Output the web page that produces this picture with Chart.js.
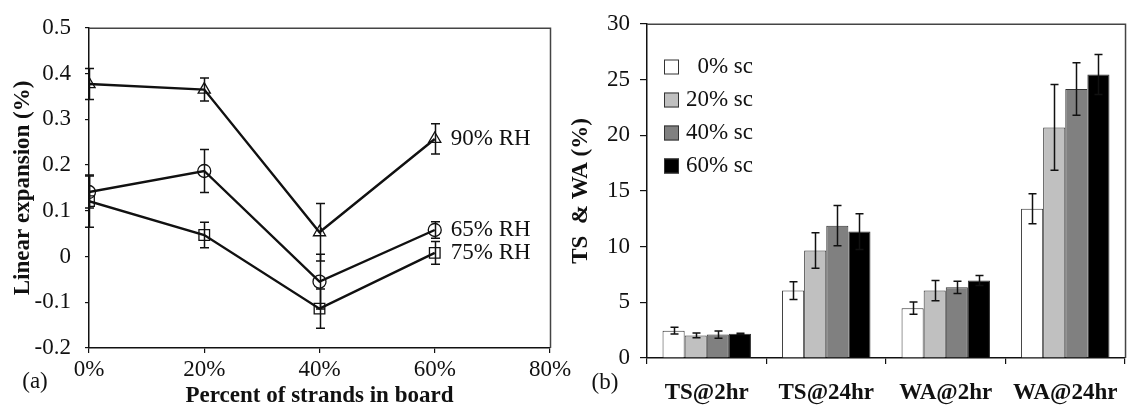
<!DOCTYPE html>
<html><head><meta charset="utf-8">
<script src="https://cdn.jsdelivr.net/npm/chart.js@4/dist/chart.umd.min.js"></script>
<style>
html,body{margin:0;padding:0;background:#fff;}
#wrap{position:relative;width:1133px;height:407px;overflow:hidden;}
#a{position:absolute;left:0;top:0;}
#b{position:absolute;left:565px;top:0;}
</style></head><body>
<div id="wrap">
<canvas id="a" width="580" height="407"></canvas>
<canvas id="b" width="568" height="407"></canvas>
</div>
<script>
// ---- Panel (a) data ----
const strandPct = [0, 20, 40, 60];
const xTicksA = [0, 20, 40, 60, 80];
const rh90 = [0.377, 0.365, 0.053, 0.257];
const rh90Err = [0.034, 0.025, 0.063, 0.033];
const rh65 = [0.141, 0.187, -0.055, 0.058];
const rh65Err = [0.035, 0.047, 0.060, 0.018];
const rh75 = [0.121, 0.047, -0.114, 0.008];
const rh75Err = [0.057, 0.028, 0.043, 0.025];
const seriesLabelsA = ['90% RH', '65% RH', '75% RH'];

// ---- Panel (b) data ----
const testCats = ['TS@2hr', 'TS@24hr', 'WA@2hr', 'WA@24hr'];
const sc0 = [2.45, 6.05, 4.47, 13.4];
const sc0Err = [0.3, 0.8, 0.55, 1.35];
const sc20 = [2.03, 9.65, 6.05, 20.7];
const sc20Err = [0.22, 1.6, 0.9, 3.85];
const sc40 = [2.1, 11.88, 6.35, 24.15];
const sc40Err = [0.32, 1.8, 0.55, 2.35];
const sc60 = [2.17, 11.35, 6.95, 25.45];
const sc60Err = [0.05, 1.6, 0.45, 1.8];
const seriesLabelsB = ['0% sc', '20% sc', '40% sc', '60% sc'];

const FONT = "'Liberation Serif','Times New Roman',serif";
const INK = '#111111';
const FS = 23;
Chart.defaults.font.family = FONT;
Chart.defaults.color = INK;

function drawErrorBars(chart, half) {
  const ctx = chart.ctx, ys = chart.scales.y;
  ctx.save();
  ctx.strokeStyle = INK; ctx.lineWidth = 1.5;
  chart.data.datasets.forEach((ds, di) => {
    const meta = chart.getDatasetMeta(di);
    meta.data.forEach((el, i) => {
      const raw = ds.data[i];
      const v = (typeof raw === 'object') ? raw.y : raw;
      const e = ds.errors[i];
      const y1 = ys.getPixelForValue(v + e), y2 = ys.getPixelForValue(v - e);
      const x = Math.round(el.x) + 0.5;
      ctx.beginPath();
      ctx.moveTo(x, y1); ctx.lineTo(x, y2);
      ctx.moveTo(x - half, y1); ctx.lineTo(x + half, y1);
      ctx.moveTo(x - half, y2); ctx.lineTo(x + half, y2);
      ctx.stroke();
    });
  });
  ctx.restore();
}

const errPlugin = {
  id: 'errBars',
  afterDatasetsDraw(chart, args, opts) { drawErrorBars(chart, opts.half || 4); }
};

const framePlugin = {
  id: 'frame',
  afterDraw(chart) {
    const { ctx, chartArea: a } = chart;
    ctx.save();
    ctx.strokeStyle = '#444'; ctx.lineWidth = 1.5;
    ctx.beginPath();
    ctx.moveTo(a.left, a.top + 0.5);
    ctx.lineTo(a.right + 0.5, a.top + 0.5);
    ctx.lineTo(a.right + 0.5, a.bottom);
    ctx.stroke();
    ctx.restore();
  }
};

const tagPlugin = {
  id: 'tag',
  afterDraw(chart, args, opts) {
    const ctx = chart.ctx;
    ctx.save();
    ctx.font = FS + 'px ' + FONT; ctx.fillStyle = INK;
    ctx.textAlign = 'center'; ctx.textBaseline = 'middle';
    ctx.fillText(opts.text, opts.x, opts.y);
    ctx.restore();
  }
};

const endLabelPlugin = {
  id: 'endLabels',
  afterDatasetsDraw(chart) {
    const ctx = chart.ctx;
    ctx.save();
    ctx.font = FS + 'px ' + FONT; ctx.fillStyle = INK;
    ctx.textAlign = 'left'; ctx.textBaseline = 'middle';
    chart.data.datasets.forEach((ds, di) => {
      const meta = chart.getDatasetMeta(di);
      const last = meta.data[meta.data.length - 1];
      ctx.fillText(ds.label, last.x + 16, last.y);
    });
    ctx.restore();
  }
};

const boxLegendPlugin = {
  id: 'boxLegend',
  afterDraw(chart, args, opts) {
    const ctx = chart.ctx;
    ctx.save();
    ctx.font = FS + 'px ' + FONT; ctx.fillStyle = INK;
    ctx.textBaseline = 'middle';
    chart.data.datasets.forEach((ds, i) => {
      const cy = opts.y0 + i * opts.dy;
      ctx.fillStyle = ds.backgroundColor;
      ctx.fillRect(opts.x, cy - 7.5, 15, 15);
      ctx.strokeStyle = '#333'; ctx.lineWidth = 1;
      ctx.strokeRect(opts.x + 0.5, cy - 7, 14, 14);
      ctx.fillStyle = INK; ctx.textAlign = 'right';
      ctx.fillText(ds.label, opts.textRight, cy);
    });
    ctx.restore();
  }
};

const pts = (arr) => strandPct.map((x, i) => ({ x: x, y: arr[i] }));
const lineStyle = (style, r) => ({
  borderColor: INK, borderWidth: 2.4, pointStyle: style, pointRadius: r,
  pointBorderColor: INK, pointBackgroundColor: 'rgba(0,0,0,0)', pointBorderWidth: 1.3,
  fill: false, tension: 0
});

new Chart(document.getElementById('a'), {
  type: 'line',
  data: {
    datasets: [
      Object.assign({ label: seriesLabelsA[0], data: pts(rh90), errors: rh90Err }, lineStyle('triangle', 7)),
      Object.assign({ label: seriesLabelsA[1], data: pts(rh65), errors: rh65Err }, lineStyle('circle', 6.5)),
      Object.assign({ label: seriesLabelsA[2], data: pts(rh75), errors: rh75Err }, lineStyle('rect', 7.5))
    ]
  },
  options: {
    responsive: false, animation: false, devicePixelRatio: 1,
    layout: { padding: { top: 19, right: 30, left: 0, bottom: 0 } },
    plugins: {
      legend: { display: false }, tooltip: { enabled: false },
      errBars: { half: 4.5 },
      tag: { text: '(a)', x: 35, y: 382 }
    },
    scales: {
      x: {
        type: 'linear', min: 0, max: 80,
        afterBuildTicks: (s) => { s.ticks = xTicksA.map(v => ({ value: v })); },
        afterFit: (s) => { s.height = 59; },
        ticks: { callback: (v) => v + '%', font: { size: FS }, color: INK, padding: 3, maxRotation: 0 },
        grid: { drawOnChartArea: false, tickLength: 5, color: INK, lineWidth: 1.2 },
        border: { color: INK, width: 1.5 },
        title: { display: true, text: 'Percent of strands in board', font: { size: FS, weight: 'bold', lineHeight: 1 }, color: INK, padding: { top: 0, bottom: -1 } }
      },
      y: {
        min: -0.2, max: 0.5,
        afterFit: (s) => { s.width = 89; },
        ticks: { stepSize: 0.1, callback: (v) => String(Math.round(v * 10) / 10), font: { size: FS }, color: INK, padding: 14 },
        grid: { drawOnChartArea: false, tickLength: 4, color: INK, lineWidth: 1.2 },
        border: { color: INK, width: 1.5 },
        title: { display: true, text: 'Linear expansion (%)', font: { size: FS, weight: 'bold', lineHeight: 1 }, color: INK, padding: { top: 12, bottom: 0 } }
      }
    }
  },
  plugins: [errPlugin, endLabelPlugin, framePlugin, tagPlugin]
});

const barColors = ['#ffffff', '#c0c0c0', '#808080', '#000000'];
const barSets = [[sc0, sc0Err], [sc20, sc20Err], [sc40, sc40Err], [sc60, sc60Err]];

new Chart(document.getElementById('b'), {
  type: 'bar',
  data: {
    labels: testCats,
    datasets: barSets.map((s, i) => ({
      label: seriesLabelsB[i], data: s[0], errors: s[1],
      backgroundColor: barColors[i], borderColor: '#333', borderWidth: 1,
      categoryPercentage: 0.74, barPercentage: 1.0
    }))
  },
  options: {
    responsive: false, animation: false, devicePixelRatio: 1,
    layout: { padding: { top: 18, right: 4, left: 0, bottom: 0 } },
    plugins: {
      legend: { display: false }, tooltip: { enabled: false },
      errBars: { half: 4 },
      tag: { text: '(b)', x: 40, y: 383 },
      boxLegend: { x: 99, y0: 67, dy: 33, textRight: 188 }
    },
    scales: {
      x: {
        afterFit: (s) => { s.height = 49; },
        ticks: { font: { size: FS, weight: 'bold' }, color: INK, padding: 15, maxRotation: 0 },
        grid: { offset: true, drawOnChartArea: false, tickLength: 6, color: INK, lineWidth: 1.2 },
        border: { color: INK, width: 1.5 }
      },
      y: {
        min: 0, max: 30,
        afterFit: (s) => { s.width = 82; },
        ticks: { stepSize: 5, font: { size: FS }, color: INK, padding: 10 },
        grid: { drawOnChartArea: false, tickLength: 7, color: INK, lineWidth: 1.2 },
        border: { color: INK, width: 1.5 },
        title: { display: true, text: 'TS  & WA (%)', font: { size: FS, weight: 'bold', lineHeight: 1 }, color: INK, padding: { top: 5, bottom: 0 } }
      }
    }
  },
  plugins: [errPlugin, framePlugin, tagPlugin, boxLegendPlugin]
});
</script>
</body></html>
